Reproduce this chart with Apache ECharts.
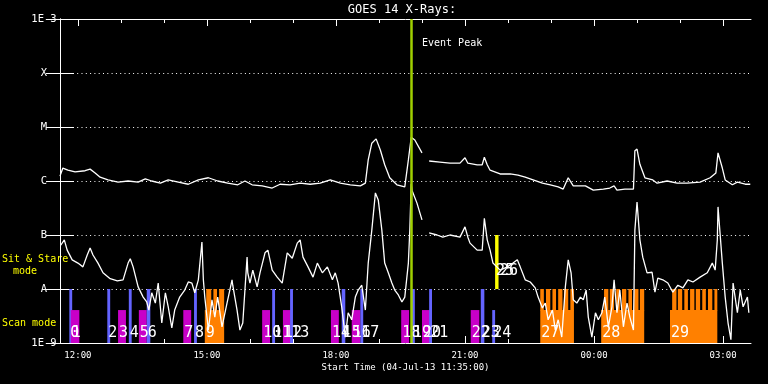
<!DOCTYPE html>
<html><head><meta charset="utf-8">
<script src="https://cdn.jsdelivr.net/npm/echarts@6/dist/echarts.min.js"></script>
<style>html,body{margin:0;padding:0;background:#000}#c{width:768px;height:384px}</style>
</head><body><div id="c"></div>
<script>
// Time: minutes after Start Time 04-Jul-13 11:35:00 ; flux: log10(W/m^2)
const longMin = [0,4,11,21,35,42,49,56,67,81,95,109,119,128,140,151,165,179,193,207,220,234,248,258,268,282,296,307,321,335,349,363,377,391,405,419,426,430,435,441,447,453,460,470,481,486,490,495,505,509,515,530,544,558,565,569,582,589,592,596,600,614,628,639,649,660,673,684,695,702,709,716,733,744,758,767,773,777,788,800,802,805,809,816,827,833,847,861,875,893,907,915,918,924,928,938,945,956,963];
const longLog = [-5.91,-5.76,-5.80,-5.83,-5.81,-5.78,-5.85,-5.93,-5.98,-6.02,-6.00,-6.02,-5.96,-6.00,-6.04,-5.98,-6.02,-6.06,-5.98,-5.94,-6.00,-6.04,-6.07,-6.00,-6.07,-6.09,-6.13,-6.06,-6.07,-6.04,-6.06,-6.04,-5.98,-6.04,-6.07,-6.09,-6.04,-5.61,-5.30,-5.22,-5.43,-5.70,-5.94,-6.07,-6.11,-5.61,-5.19,-5.24,-5.48,null,-5.63,-5.65,-5.67,-5.67,-5.57,-5.67,-5.70,-5.70,-5.56,-5.70,-5.80,-5.87,-5.87,-5.89,-5.93,-5.98,-6.04,-6.07,-6.11,-6.15,-5.94,-6.09,-6.09,-6.17,-6.15,-6.13,-6.09,-6.17,-6.15,-6.15,-5.44,-5.41,-5.69,-5.94,-5.98,-6.04,-6.00,-6.04,-6.04,-6.02,-5.94,-5.85,-5.48,-5.76,-5.98,-6.07,-6.02,-6.06,-6.06];
const shortMin = [1,6,10,17,25,32,38,42,46,53,60,70,80,88,95,98,102,109,116,121,124,128,133,137,142,147,151,156,160,167,174,179,184,188,193,198,200,202,207,212,216,220,226,233,240,241,247,251,255,261,262,265,269,275,279,286,290,296,303,310,317,324,331,335,339,346,353,359,366,373,380,384,388,393,398,402,407,412,416,421,426,430,435,440,444,449,453,458,463,467,472,477,481,486,488,490,491,498,505,509,515,526,534,544,558,565,569,572,582,589,592,596,600,604,614,624,632,638,642,649,656,663,667,673,677,681,687,691,695,700,705,709,713,716,721,726,730,734,737,742,747,751,756,760,765,770,773,777,781,786,791,795,800,802,805,809,813,819,826,830,834,841,848,855,862,869,876,883,893,903,910,914,917,918,924,928,932,936,939,945,949,953,959,961];
const shortLog = [-7.19,-7.09,-7.28,-7.46,-7.52,-7.59,-7.37,-7.24,-7.37,-7.52,-7.70,-7.81,-7.85,-7.83,-7.52,-7.44,-7.59,-7.96,-8.15,-8.24,-8.39,-8.07,-8.26,-7.89,-8.63,-8.07,-8.33,-8.72,-8.39,-8.15,-8.02,-7.87,-7.89,-8.07,-7.83,-7.13,-7.83,-8.15,-8.76,-8.20,-8.52,-8.15,-8.70,-8.26,-7.83,-7.93,-8.39,-8.76,-8.63,-7.41,-7.70,-7.89,-7.65,-7.96,-7.70,-7.33,-7.28,-7.65,-7.78,-7.89,-7.33,-7.43,-7.15,-7.09,-7.41,-7.59,-7.78,-7.52,-7.70,-7.59,-7.83,-7.70,-7.89,-8.33,-8.89,-8.44,-8.57,-8.15,-8.02,-7.93,-8.39,-7.52,-6.91,-6.22,-6.35,-6.91,-7.52,-7.70,-7.89,-8.02,-8.11,-8.24,-8.15,-7.52,-6.91,-6.05,-6.17,-6.41,-6.72,null,-6.96,-7.00,-7.04,-7.00,-7.04,-6.85,-7.04,-7.15,-7.28,-7.28,-6.69,-7.09,-7.28,-7.52,-7.65,-7.59,-7.52,-7.46,-7.59,-7.83,-7.87,-7.98,-8.15,-8.35,-8.26,-8.57,-8.39,-8.76,-8.57,-8.89,-7.96,-7.46,-7.70,-8.20,-8.26,-8.15,-8.20,-8.02,-8.52,-8.89,-8.44,-8.57,-8.44,-8.15,-8.70,-8.33,-7.83,-8.44,-8.02,-8.70,-8.26,-8.52,-8.76,-6.91,-6.39,-7.09,-7.41,-7.70,-7.69,-8.06,-7.80,-7.83,-7.89,-8.06,-7.93,-7.98,-7.83,-7.87,-7.78,-7.70,-7.52,-7.65,-7.09,-6.48,-7.52,-8.15,-8.63,-8.94,-7.89,-8.44,-8.02,-8.33,-8.15,-8.44];

const scanStart = [13,15,66,81,96,110,121,172,187,202,282,296,311,321,378,393,407,419,476,491,505,515,573,587,603,670,755,851];
const scanEnd   = [17,27,70,92,100,121,126,183,191,229,293,300,322,325,389,398,419,423,487,495,516,519,585,592,607,717,815,917];
const scanKind  = ['spot','field','spot','field','spot','field','spot','field','spot','raster','field','spot','field','spot','field','spot','field','spot','field','spot','field','spot','field','spot','partial','raster','raster','raster'];
const scanNumber = [0,1,2,3,4,5,6,7,8,9,10,11,12,13,14,15,16,17,18,19,20,21,22,23,24,27,28,29];
const toothStart = [204,214,222,670,678,687,695,703,712,759,767,776,784,793,801,809,854,862,871,879,887,896,904,913];
const toothEnd   = [211,219,229,675,684,692,701,709,717,765,773,781,790,798,807,815,860,868,876,885,893,901,910,917];
const sitStareMin = [607,609];
const sitStareNumber = [25,26];
const eventPeakMin = 490;

const hourTicks = [25,85,145,205,265,325,385,445,505,565,625,685,745,805,865,925];
const labelTicks = [25,205,385,565,745,925];
const yTickLabels = ['1E-9','A','B','C','M','X','1E-3'];

const MONO = '"DejaVu Sans Mono", monospace';
const kindColor = {spot:'#6464ff', field:'#c800c8', raster:'#ff8000', partial:'#6464ff'};

function toLine(ts, vs){ return ts.map((t,i)=>[t, vs[i]===null ? '-' : vs[i]]); }
function fmtTime(m){
  const tot = 11*60+35+m; const h = Math.floor(tot/60)%24; const mm = tot%60;
  return String(h).padStart(2,'0')+':'+String(mm).padStart(2,'0');
}

function renderScan(params, api){
  const i = api.value(2);
  const kind = scanKind[i];
  const x0 = api.coord([api.value(0), -9])[0];
  const x1 = api.coord([api.value(1), -9])[0];
  const yb = api.coord([0,-9])[1];
  const top = kind==='spot' ? api.coord([0,-8])[1] : api.coord([0,-8.39])[1];
  return {type:'rect', shape:{x:x0, y:top, width:x1-x0, height:yb-top}, style:{fill:kindColor[kind]}};
}
function renderTooth(params, api){
  const x0 = api.coord([api.value(0), -9])[0];
  const x1 = api.coord([api.value(1), -9])[0];
  const yA = api.coord([0,-8])[1];
  const ym = api.coord([0,-8.39])[1];
  return {type:'rect', shape:{x:x0, y:yA, width:x1-x0, height:ym-yA+0.5}, style:{fill:'#ff8000'}};
}
function renderSit(params, api){
  const x = api.coord([api.value(0), -8])[0];
  const yA = api.coord([0,-8])[1];
  const yB = api.coord([0,-7])[1];
  return {type:'rect', shape:{x:x, y:yB, width:2, height:yA-yB}, style:{fill:'#ffff00'}};
}
function renderLabel(params, api){
  const kind = api.value(2), k = api.value(3);
  const x = api.coord([api.value(0), -9])[0];
  let px, py;
  if (kind === 0) { px = x + 1; py = api.coord([0,-9])[1] - 10; }
  else { px = x + 1 + k*2.5; py = api.coord([0,-8])[1] - 18; }
  return {type:'text', x:px, y:py, style:{text:String(api.value(1)), fill:'#fff', font:'15px '+MONO,
    textAlign:'left', textVerticalAlign:'middle', align:'left', verticalAlign:'middle'}};
}

const labelData = scanStart.map((s,i)=>[s, scanNumber[i], 0, 0])
  .concat(sitStareMin.map((s,i)=>[s, sitStareNumber[i], 1, i]));

function gtext(x,y,text,size,color,align){
  return {type:'text', x:x, y:y, silent:true, style:{text:text, fill:color, font:size+'px '+MONO,
    textAlign:align, textVerticalAlign:'middle', align:align, verticalAlign:'middle'}};
}

const xBase = {type:'value', min:0, max:964, splitLine:{show:false}};
const option = {
  backgroundColor:'#000',
  animation:false,
  grid:{left:60, right:17, top:19, bottom:41},
  xAxis:[
    Object.assign({}, xBase, {position:'bottom',
      axisLine:{show:true, lineStyle:{color:'#fff', width:1}},
      axisTick:{show:true, inside:true, length:4, customValues:hourTicks, lineStyle:{color:'#fff'}},
      axisLabel:{show:true, customValues:labelTicks, formatter:fmtTime, color:'#fff', fontFamily:MONO, fontSize:9, margin:8}}),
    Object.assign({}, xBase, {position:'bottom',
      axisLine:{show:false},
      axisTick:{show:true, inside:true, length:7, customValues:labelTicks, lineStyle:{color:'#fff'}},
      axisLabel:{show:false}}),
    Object.assign({}, xBase, {position:'top',
      axisLine:{show:true, lineStyle:{color:'#fff', width:1}},
      axisTick:{show:true, inside:true, length:4, customValues:hourTicks, lineStyle:{color:'#fff'}},
      axisLabel:{show:false}}),
    Object.assign({}, xBase, {position:'top',
      axisLine:{show:false},
      axisTick:{show:true, inside:true, length:7, customValues:labelTicks, lineStyle:{color:'#fff'}},
      axisLabel:{show:false}})
  ],
  yAxis:[
    {type:'value', position:'left', min:-9, max:-3, interval:1,
      axisLine:{show:true, lineStyle:{color:'#fff', width:1}},
      axisTick:{show:true, inside:true, length:14, lineStyle:{color:'#fff'}},
      axisLabel:{show:true, formatter:v=>yTickLabels[Math.round(v+9)], color:'#fff', fontFamily:MONO, fontSize:10.5,
        align:'center', margin:16, showMinLabel:true, showMaxLabel:true},
      splitLine:{show:true, showMinLine:false, showMaxLine:false, lineStyle:{color:'#fff', type:[1,3.3], width:1}}},
    {type:'value', position:'right', min:-9, max:-3, interval:1,
      axisLine:{show:true, lineStyle:{color:'#fff', width:1}},
      axisTick:{show:true, inside:true, length:14, lineStyle:{color:'#fff'}},
      axisLabel:{show:false}, splitLine:{show:false}}
  ],
  graphic:[
    gtext(402, 9.5, 'GOES 14 X-Rays:', 12, '#fff', 'center'),
    gtext(422, 43.5, 'Event Peak', 10, '#fff', 'left'),
    gtext(2, 259.5, 'Sit & Stare', 10, '#ffff00', 'left'),
    gtext(13, 271.5, 'mode', 10, '#ffff00', 'left'),
    gtext(2, 323.5, 'Scan mode', 10, '#ffff00', 'left'),
    gtext(405.5, 367.5, 'Start Time (04-Jul-13 11:35:00)', 9, '#fff', 'center')
  ],
  series:[
    {type:'custom', name:'scans', z:1, renderItem:renderScan, data:scanStart.map((s,i)=>[s, scanEnd[i], i]), silent:true},
    {type:'custom', name:'raster', z:1, renderItem:renderTooth, data:toothStart.map((s,i)=>[s, toothEnd[i]]), silent:true},
    {type:'custom', name:'sitstare', z:1, renderItem:renderSit, data:sitStareMin.map(s=>[s, -8]), silent:true},
    {type:'custom', name:'labels', z:2, renderItem:renderLabel, data:labelData, silent:true},
    {type:'line', name:'long', z:3, data:toLine(longMin, longLog), showSymbol:false, connectNulls:false,
      lineStyle:{color:'#fff', width:1.3}, silent:true},
    {type:'line', name:'short', z:3, data:toLine(shortMin, shortLog), showSymbol:false, connectNulls:false,
      lineStyle:{color:'#fff', width:1.3}, silent:true},
    {type:'line', name:'peak', z:4, data:[], silent:true,
      markLine:{silent:true, symbol:['none','none'], label:{show:false},
        lineStyle:{color:'#a0d000', width:2.5, type:'solid'}, data:[{xAxis:eventPeakMin}]}}
  ]
};
const chart = echarts.init(document.getElementById('c'), null, {renderer:'canvas'});
chart.setOption(option);
</script></body></html>
